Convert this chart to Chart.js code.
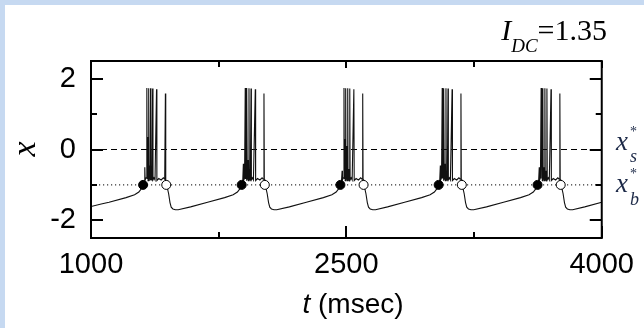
<!DOCTYPE html>
<html>
<head>
<meta charset="utf-8">
<script src="https://cdn.jsdelivr.net/npm/chart.js@4.4.1/dist/chart.umd.min.js"></script>
<style>
  html, body { margin:0; padding:0; background:#ffffff; }
  #wrap { position:relative; width:644px; height:328px; overflow:hidden; background:#ffffff; }
  #c { position:absolute; left:0; top:0; }
  .band { position:absolute; background:#c6d9f1; z-index:5; }
  .lbl { position:absolute; white-space:nowrap; z-index:6; }
  .serif { font-family:"Liberation Serif","Times New Roman",serif; }
  .sans { font-family:"Liberation Sans",Arial,sans-serif; }
  .navy { color:#1d2a48; }
</style>
</head>
<body>
<div id="wrap">
  <canvas id="c" width="644" height="328"></canvas>
  <div class="band" style="left:0;top:0;width:644px;height:5px;"></div>
  <div class="band" style="left:0;top:0;width:5px;height:328px;"></div>

  <!-- I_DC = 1.35 -->
  <div class="lbl serif" style="right:37px;top:15px;font-size:30px;line-height:30px;color:#000;">
    <i>I</i><span style="position:relative;top:12px;font-size:19px;font-style:italic;">DC</span>=1.35
  </div>

  <!-- y axis title -->
  <div class="lbl serif" style="left:7px;top:132px;width:34px;height:34px;line-height:34px;font-size:34px;text-align:center;font-style:italic;transform:rotate(-90deg);color:#000;">x</div>

  <!-- x axis title -->
  <div class="lbl sans" style="left:0;width:706px;top:290px;font-size:28px;line-height:28px;text-align:center;color:#000;"><i>t</i> (msec)</div>

  <!-- right side labels -->
  <div class="lbl serif navy" style="left:616px;top:128px;font-size:27px;line-height:27px;font-style:italic;">x</div>
  <div class="lbl serif navy" style="left:630px;top:125px;font-size:14px;line-height:14px;">*</div>
  <div class="lbl serif navy" style="left:630px;top:147px;font-size:18px;line-height:18px;font-style:italic;">s</div>

  <div class="lbl serif navy" style="left:616px;top:170px;font-size:27px;line-height:27px;font-style:italic;">x</div>
  <div class="lbl serif navy" style="left:630px;top:167px;font-size:14px;line-height:14px;">*</div>
  <div class="lbl serif navy" style="left:630px;top:190px;font-size:18px;line-height:18px;font-style:italic;">b</div>
</div>

<script>
// ---------------- data ----------------
const xTickValues = [1000, 2500, 4000];
const xMinorTicks = [1750, 3250];
const yTickValues = [-2, 0, 2];
const yMinorTicks = [-1, 1];

const thresholdSpike = 0;     // x*_s (dashed)
const thresholdBurst = -1;    // x*_b (dotted)

// membrane-like trace x(t)
const timeMs = [
  1000,1060,1106,1206,1256,1281,1294,
  1306,1312,1316,1318,1324,1328,1330,1333,1335,1338,1340,1344,1346,1350,1352,1356,1358,1362,1364,1370,1376,1385,1387,1398,1412,1425,1433,1437,1439,1442,1448,1456,1464,1471,1481,1496,1512,
  1585,1685,1785,1835,1860,1873,
  1885,1891,1895,1897,1902,1906,1908,1911,1913,1916,1918,1922,1924,1928,1930,1934,1936,1940,1942,1948,1954,1965,1967,1978,1992,2005,2012,2016,2018,2021,2027,2035,2043,2050,2060,2075,2091,
  2165,2265,2365,2415,2440,2453,
  2465,2471,2475,2477,2482,2486,2488,2491,2493,2496,2498,2502,2504,2508,2510,2514,2516,2520,2522,2528,2534,2544,2546,2557,2571,2584,2592,2596,2598,2601,2607,2615,2623,2630,2640,2655,2671,
  2742,2842,2942,2992,3017,3030,
  3042,3048,3052,3054,3059,3063,3065,3068,3070,3073,3075,3079,3081,3085,3087,3091,3093,3097,3099,3105,3111,3121,3123,3134,3148,3161,3169,3173,3175,3178,3184,3192,3200,3207,3217,3232,3248,
  3323,3423,3523,3573,3598,3611,
  3623,3629,3633,3635,3640,3644,3646,3649,3651,3654,3656,3660,3662,3666,3668,3672,3674,3678,3680,3686,3692,3702,3704,3715,3729,3742,3750,3754,3756,3759,3765,3773,3781,3788,3798,3813,3829,
  3900,4000
];
const xValues = [
  -1.61,-1.54,-1.49,-1.36,-1.28,-1.20,-1.12,
  -1.00,-0.92,-0.50,-0.86,-0.80,1.74,-0.82,0.35,-0.88,1.73,-0.84,-0.45,-0.88,1.73,-0.86,-0.60,-0.88,1.72,-0.86,-0.80,-0.86,1.70,-0.88,-0.82,-0.86,-0.80,-0.84,1.58,-0.84,-1.00,-1.08,-1.25,-1.50,-1.63,-1.68,-1.70,-1.70,
  -1.62,-1.49,-1.36,-1.28,-1.20,-1.12,
  -1.00,-0.93,-0.40,-0.87,-0.81,1.74,-0.83,0.55,-0.88,1.74,-0.84,-0.30,-0.88,1.73,-0.86,-0.55,-0.88,1.72,-0.86,-0.80,-0.86,1.70,-0.88,-0.82,-0.86,-0.80,-0.84,1.58,-0.84,-1.00,-1.08,-1.25,-1.50,-1.63,-1.68,-1.70,-1.70,
  -1.62,-1.49,-1.36,-1.28,-1.20,-1.12,
  -1.00,-0.92,-0.60,-0.86,-0.80,1.74,-0.82,0.30,-0.88,1.73,-0.84,0.10,-0.88,1.73,-0.86,-0.55,-0.88,1.72,-0.86,-0.80,-0.86,1.70,-0.88,-0.82,-0.86,-0.80,-0.84,1.58,-0.84,-1.00,-1.08,-1.25,-1.50,-1.63,-1.68,-1.70,-1.70,
  -1.62,-1.49,-1.36,-1.28,-1.20,-1.12,
  -1.00,-0.92,-0.45,-0.86,-0.80,1.74,-0.82,0.40,-0.88,1.73,-0.84,-0.40,-0.88,1.73,-0.86,-0.60,-0.88,1.72,-0.86,-0.80,-0.86,1.70,-0.88,-0.82,-0.86,-0.80,-0.84,1.58,-0.84,-1.00,-1.08,-1.25,-1.50,-1.63,-1.68,-1.70,-1.70,
  -1.62,-1.49,-1.36,-1.28,-1.20,-1.12,
  -1.00,-0.92,-0.50,-0.86,-0.80,1.74,-0.82,0.45,-0.88,1.73,-0.84,-0.50,-0.88,1.73,-0.86,-0.60,-0.88,1.72,-0.86,-0.80,-0.86,1.70,-0.88,-0.82,-0.86,-0.80,-0.84,1.58,-0.84,-1.00,-1.08,-1.25,-1.50,-1.63,-1.68,-1.70,-1.70,
  -1.62,-1.49
];

// burst onset (filled) and burst end (open) crossings of x*_b
const burstStartT = [1306, 1885, 2465, 3042, 3623];
const burstEndT   = [1442, 2021, 2601, 3178, 3759];

// ---------------- chart ----------------
const trace = timeMs.map((t, i) => ({ x: t, y: xValues[i] }));
const starts = burstStartT.map(t => ({ x: t, y: thresholdBurst }));
const ends = burstEndT.map(t => ({ x: t, y: thresholdBurst }));
const xMin = xTickValues[0], xMax = xTickValues[xTickValues.length - 1];

const frameTicks = {
  id: 'frameTicks',
  afterDatasetsDraw(chart) {
    const { ctx, chartArea: a, scales } = chart;
    const xs = scales.x, ys = scales.y;
    ctx.save();
    ctx.strokeStyle = '#000';
    ctx.lineWidth = 2;
    ctx.lineCap = 'butt';
    ctx.beginPath();
    const major = 12, minor = 6;
    yTickValues.forEach(v => {
      const p = Math.round(ys.getPixelForValue(v));
      ctx.moveTo(a.left, p); ctx.lineTo(a.left + major, p);
      ctx.moveTo(a.right, p); ctx.lineTo(a.right - major, p);
    });
    yMinorTicks.forEach(v => {
      const p = Math.round(ys.getPixelForValue(v));
      ctx.moveTo(a.left, p); ctx.lineTo(a.left + minor, p);
      ctx.moveTo(a.right, p); ctx.lineTo(a.right - minor, p);
    });
    xTickValues.forEach(v => {
      const p = Math.round(xs.getPixelForValue(v));
      ctx.moveTo(p, a.bottom); ctx.lineTo(p, a.bottom - major);
      ctx.moveTo(p, a.top); ctx.lineTo(p, a.top + minor + 1);
    });
    xMinorTicks.forEach(v => {
      const p = Math.round(xs.getPixelForValue(v));
      ctx.moveTo(p, a.bottom); ctx.lineTo(p, a.bottom - minor);
      ctx.moveTo(p, a.top); ctx.lineTo(p, a.top + minor);
    });
    ctx.stroke();
    ctx.strokeRect(a.left, a.top, a.right - a.left, a.bottom - a.top);
    ctx.restore();
  }
};

new Chart(document.getElementById('c'), {
  type: 'line',
  data: {
    datasets: [
      { label: 'burst start', data: starts, showLine: false, pointRadius: 4.5,
        pointBackgroundColor: '#000', pointBorderColor: '#000', pointBorderWidth: 1, order: 0 },
      { label: 'burst end', data: ends, showLine: false, pointRadius: 4.5,
        pointBackgroundColor: '#fff', pointBorderColor: '#000', pointBorderWidth: 1, order: 1 },
      { label: 'x(t)', data: trace, borderColor: '#111', borderWidth: 1.1, pointRadius: 0,
        tension: 0, order: 2 },
      { label: 'x*s', data: [{ x: xMin, y: thresholdSpike }, { x: xMax, y: thresholdSpike }],
        borderColor: '#000', borderWidth: 1, borderDash: [6, 4], pointRadius: 0, order: 3 },
      { label: 'x*b', data: [{ x: xMin, y: thresholdBurst }, { x: xMax, y: thresholdBurst }],
        borderColor: '#000', borderWidth: 1, borderDash: [1.2, 2.8], pointRadius: 0, order: 4 }
    ]
  },
  options: {
    responsive: false,
    animation: false,
    events: [],
    layout: { padding: { left: 0, right: 37, top: 61, bottom: 0 } },
    plugins: { legend: { display: false }, tooltip: { enabled: false } },
    scales: {
      x: {
        type: 'linear', min: xMin, max: xMax,
        afterBuildTicks: s => { s.ticks = xTickValues.map(v => ({ value: v })); },
        afterFit: s => { s.height = 90; },
        grid: { display: false, drawTicks: false },
        border: { display: false },
        ticks: { autoSkip: false, maxRotation: 0, padding: 10, color: '#000',
          font: { family: 'Liberation Sans', size: 29 }, callback: v => String(v) }
      },
      y: {
        type: 'linear', min: -2.5, max: 2.5,
        afterBuildTicks: s => { s.ticks = yTickValues.map(v => ({ value: v })); },
        afterFit: s => { s.width = 91; },
        grid: { display: false, drawTicks: false },
        border: { display: false },
        ticks: { autoSkip: false, padding: 15, color: '#000',
          font: { family: 'Liberation Sans', size: 29 }, callback: v => String(v) }
      }
    }
  },
  plugins: [frameTicks]
});
</script>
</body>
</html>
